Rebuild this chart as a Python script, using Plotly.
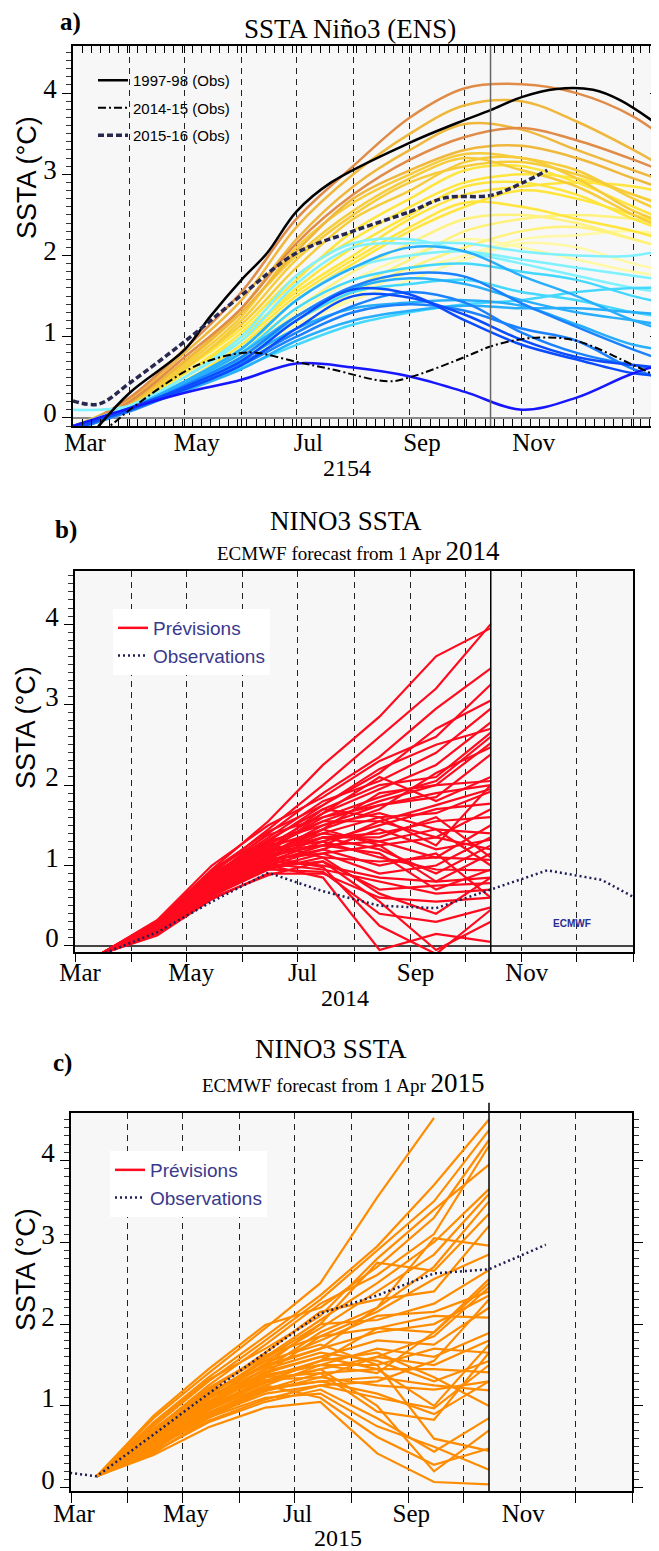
import plotly.graph_objects as go

W, H = 659, 1551
OFF = 8                      # default page margin of the written html
W_FIG, H_FIG = W - OFF, H - OFF
SERIF = "Liberation Serif"
SANS = "Liberation Sans"

# ======================= DATA =======================
# ---- Panel a : SSTA Nino3 (ENS) ----
A_MONTHS = ["2015-03-01", "2015-04-01", "2015-05-01", "2015-06-01", "2015-07-01", "2015-08-01",
            "2015-09-01", "2015-10-01", "2015-11-01", "2015-12-01", "2016-01-01", "2016-02-01"]

ENS_A_ORANGE = [
    [-0.15, 0.25, 0.85, 1.55, 2.45, 3.10, 3.70, 4.06, 4.11, 4.00, 3.71, 3.20],
    [-0.15, 0.20, 0.75, 1.35, 2.15, 2.75, 3.18, 3.46, 3.57, 3.42, 3.18, 2.90],
]
ENS_A_GOLD = [
    [-0.15, 0.22, 0.80, 1.45, 2.35, 3.00, 3.50, 3.85, 3.90, 3.65, 3.30, 2.90],
    [-0.12, 0.20, 0.70, 1.35, 2.20, 2.85, 3.30, 3.62, 3.55, 3.30, 3.05, 2.80],
    [-0.15, 0.18, 0.70, 1.30, 2.05, 2.70, 3.05, 3.30, 3.35, 3.20, 2.95, 2.70],
]
ENS_A_AMBER = [
    [-0.10, 0.20, 0.65, 1.25, 2.10, 2.65, 3.00, 3.25, 3.20, 3.05, 2.70, 2.40],
    [-0.15, 0.15, 0.60, 1.20, 1.95, 2.50, 2.90, 3.10, 3.15, 3.00, 2.75, 2.50],
    [-0.12, 0.20, 0.68, 1.30, 2.00, 2.55, 2.95, 3.20, 3.05, 2.85, 2.50, 2.20],
    [-0.15, 0.18, 0.62, 1.15, 1.85, 2.45, 2.80, 3.15, 3.20, 2.95, 2.55, 2.30],
]
ENS_A_YELLOW = [
    [-0.15, 0.15, 0.55, 1.05, 1.70, 2.30, 2.70, 3.05, 3.10, 2.90, 2.60, 2.30],
    [-0.10, 0.18, 0.60, 1.10, 1.75, 2.20, 2.60, 2.90, 3.00, 2.95, 2.75, 2.50],
    [-0.15, 0.12, 0.50, 1.00, 1.60, 2.10, 2.50, 2.85, 2.90, 2.75, 2.45, 2.20],
    [-0.12, 0.15, 0.55, 1.00, 1.55, 2.00, 2.45, 2.75, 2.85, 2.90, 2.85, 2.70],
    [-0.15, 0.10, 0.45, 0.90, 1.45, 1.90, 2.30, 2.60, 2.80, 2.70, 2.50, 2.30],
    [-0.10, 0.15, 0.50, 0.95, 1.50, 1.95, 2.35, 2.65, 2.60, 2.45, 2.30, 2.10],
]
ENS_A_PALE = [
    [-0.12, 0.12, 0.45, 0.85, 1.35, 1.80, 2.15, 2.45, 2.50, 2.40, 2.20, 2.00],
    [-0.15, 0.10, 0.40, 0.80, 1.25, 1.60, 1.95, 2.30, 2.45, 2.50, 2.45, 2.35],
    [-0.10, 0.12, 0.45, 0.80, 1.20, 1.55, 1.85, 2.10, 2.30, 2.35, 2.20, 2.00],
]
ENS_A_PALER = [
    [-0.15, 0.08, 0.35, 0.70, 1.10, 1.50, 1.80, 2.00, 2.20, 2.25, 2.30, 2.20],
    [-0.12, 0.10, 0.40, 0.75, 1.15, 1.45, 1.70, 1.95, 2.15, 2.10, 1.90, 1.75],
    [-0.10, 0.12, 0.42, 0.78, 1.30, 1.70, 2.00, 2.20, 2.10, 1.95, 1.80, 1.70],
]
ENS_A_LCYAN = [
    [0.10, 0.15, 0.50, 0.95, 1.65, 2.10, 2.15, 2.15, 2.05, 2.00, 2.00, 2.15],
    [-0.10, 0.15, 0.50, 1.00, 1.75, 2.15, 2.20, 2.05, 1.90, 1.75, 1.60, 1.50],
    [-0.12, 0.12, 0.45, 0.85, 1.45, 1.85, 2.00, 2.05, 1.95, 1.85, 1.75, 1.65],
]
ENS_A_CYAN = [
    [-0.10, 0.12, 0.42, 0.80, 1.35, 1.70, 1.85, 1.90, 1.80, 1.70, 1.50, 1.35],
    [-0.15, 0.10, 0.40, 0.75, 1.20, 1.55, 1.65, 1.70, 1.55, 1.45, 1.30, 1.20],
    [-0.10, 0.10, 0.36, 0.62, 0.90, 1.15, 1.30, 1.40, 1.45, 1.55, 1.60, 1.60],
]
ENS_A_SKY = [
    [-0.12, 0.12, 0.45, 0.85, 1.45, 1.85, 2.10, 2.05, 1.75, 1.50, 1.20, 1.00],
    [-0.10, 0.10, 0.42, 0.80, 1.25, 1.60, 1.72, 1.65, 1.45, 1.30, 1.20, 1.10],
    [-0.15, 0.10, 0.33, 0.60, 0.95, 1.20, 1.32, 1.38, 1.35, 1.35, 1.30, 1.25],
    [-0.10, 0.12, 0.40, 0.72, 1.10, 1.35, 1.42, 1.45, 1.38, 1.15, 0.90, 0.80],
]
ENS_A_BLUE = [
    [-0.12, 0.10, 0.40, 0.75, 1.25, 1.62, 1.78, 1.74, 1.41, 1.12, 0.84, 0.60],
    [-0.10, 0.10, 0.38, 0.68, 1.05, 1.38, 1.55, 1.42, 1.05, 0.80, 0.65, 0.55],
    [-0.15, 0.08, 0.35, 0.65, 1.00, 1.30, 1.40, 1.32, 1.10, 0.95, 0.60, 0.40],
]
ENS_A_DEEP = [
    [-0.12, 0.10, 0.35, 0.65, 1.10, 1.50, 1.48, 1.27, 0.96, 0.75, 0.65, 0.60],
    [-0.15, 0.12, 0.38, 0.70, 1.20, 1.58, 1.52, 1.20, 0.90, 0.72, 0.55, 0.50],
]
ENS_A_DARK = [
    [-0.10, 0.12, 0.31, 0.47, 0.67, 0.62, 0.51, 0.32, 0.10, 0.25, 0.55, 0.75],
]

OBS_9798_DATES = ["2015-03-01", "2015-03-15", "2015-04-01", "2015-05-01", "2015-05-15", "2015-06-01",
                  "2015-06-15", "2015-07-01", "2015-07-20", "2015-09-01", "2015-10-01", "2015-10-15",
                  "2015-11-01", "2015-11-20", "2015-12-10", "2015-12-25", "2016-01-15"]
OBS_9798 = [-0.50, -0.10, 0.31, 0.84, 1.25, 1.70, 2.03, 2.54, 2.90, 3.39, 3.67, 3.79,
            3.95, 4.05, 4.04, 3.91, 3.60]

OBS_1415_DATES = ["2015-03-01", "2015-03-21", "2015-04-01", "2015-05-01", "2015-05-15", "2015-06-01",
                  "2015-06-10", "2015-07-01", "2015-07-20", "2015-08-20", "2015-09-01", "2015-10-01",
                  "2015-10-15", "2015-11-01", "2015-11-15", "2015-12-01", "2016-01-01", "2016-01-15"]
OBS_1415 = [-0.35, -0.10, 0.10, 0.57, 0.71, 0.80, 0.80, 0.69, 0.60, 0.45, 0.50, 0.75,
            0.88, 0.97, 0.99, 0.95, 0.65, 0.50]

OBS_1516_DATES = ["2015-03-01", "2015-03-15", "2015-04-01", "2015-05-01", "2015-06-01", "2015-07-01",
                  "2015-08-01", "2015-09-01", "2015-09-20", "2015-10-15", "2015-11-01", "2015-11-15"]
OBS_1516 = [0.21, 0.17, 0.43, 0.94, 1.51, 2.03, 2.30, 2.54, 2.71, 2.74, 2.89, 3.05]

# ---- Panel b : ECMWF forecast from 1 Apr 2014 ----
B_DATES = ["2014-03-15", "2014-04-15", "2014-05-15", "2014-06-15", "2014-07-15",
           "2014-08-15", "2014-09-15", "2014-10-15"]
B_START = -0.10
B_MEMBERS = [
    [0.30, 0.95, 1.55, 2.25, 2.85, 3.60, 3.95],
    [0.28, 0.90, 1.45, 2.00, 2.60, 3.20, 4.00],
    [0.25, 0.85, 1.40, 1.90, 2.35, 2.95, 3.45],
    [0.32, 1.00, 1.50, 1.85, 2.30, 2.60, 3.25],
    [0.22, 0.80, 1.30, 1.75, 2.15, 2.70, 3.05],
    [0.28, 0.88, 1.35, 1.80, 2.05, 2.40, 2.95],
    [0.26, 0.82, 1.25, 1.65, 1.95, 2.25, 2.78],
    [0.20, 0.75, 1.20, 1.70, 2.00, 2.10, 2.65],
    [0.30, 0.92, 1.38, 1.60, 1.85, 2.05, 2.60],
    [0.24, 0.78, 1.22, 1.55, 1.80, 2.00, 2.52],
    [0.18, 0.70, 1.10, 1.45, 1.70, 2.15, 2.47],
    [0.27, 0.85, 1.30, 1.50, 1.75, 1.85, 2.38],
    [0.22, 0.76, 1.15, 1.45, 1.90, 2.00, 2.05],
    [0.25, 0.80, 1.20, 1.60, 1.75, 1.90, 2.00],
    [0.20, 0.72, 1.12, 1.40, 1.60, 1.65, 1.92],
    [0.30, 0.90, 1.28, 1.55, 1.55, 1.75, 1.95],
    [0.16, 0.65, 1.05, 1.30, 1.50, 1.70, 1.77],
    [0.22, 0.74, 1.10, 1.35, 1.40, 1.55, 1.60],
    [0.26, 0.80, 1.18, 1.25, 1.30, 1.45, 1.40],
    [0.19, 0.68, 1.00, 1.20, 1.45, 1.20, 1.32],
    [0.24, 0.77, 1.08, 1.15, 1.25, 1.35, 1.20],
    [0.15, 0.62, 0.95, 1.10, 1.05, 1.10, 1.07],
    [0.28, 0.86, 1.20, 1.30, 1.10, 0.95, 0.94],
    [0.21, 0.72, 1.05, 1.00, 0.85, 0.80, 0.85],
    [0.17, 0.66, 0.98, 1.05, 0.70, 0.75, 0.78],
    [0.23, 0.75, 1.02, 0.95, 0.80, 0.65, 0.70],
    [0.13, 0.58, 0.90, 0.90, 0.60, 0.55, 0.60],
    [0.20, 0.70, 0.95, 0.92, 0.40, 0.30, 0.48],
    [0.25, 0.78, 1.10, 0.98, 0.25, -0.10, 0.45],
    [0.18, 0.66, 1.00, 0.85, -0.05, 0.15, 0.05],
    [0.14, 0.60, 0.88, 1.05, 0.55, -0.05, 0.30],
    [0.27, 0.83, 1.25, 1.40, 1.30, 1.10, 1.50],
    [0.21, 0.73, 1.12, 1.25, 1.55, 1.35, 1.70],
    [0.29, 0.88, 1.32, 1.70, 1.60, 1.25, 2.00],
    [0.23, 0.76, 1.18, 1.35, 1.20, 0.90, 1.25],
    [0.19, 0.69, 1.06, 1.20, 1.00, 1.15, 0.60],
    [0.26, 0.81, 1.22, 1.45, 1.25, 0.80, 1.15],
    [0.16, 0.64, 0.97, 1.15, 0.90, 1.00, 1.35],
    [0.31, 0.94, 1.42, 1.75, 2.20, 2.50, 2.70],
    [0.22, 0.74, 1.14, 1.50, 1.65, 1.45, 1.00],
    [0.28, 0.87, 1.27, 1.10, 0.65, 0.40, 0.85],
    [0.17, 0.67, 1.03, 1.25, 1.15, 0.70, 0.95],
    [0.24, 0.79, 1.16, 1.65, 2.10, 1.80, 2.10],
    [0.20, 0.71, 1.08, 1.35, 1.35, 1.60, 1.10],
]
OBS_B_DATES = ["2014-03-15", "2014-04-15", "2014-05-15", "2014-06-15", "2014-07-15", "2014-08-15",
               "2014-09-15", "2014-10-15", "2014-11-15", "2014-12-15", "2015-01-15"]
OBS_B = [-0.11, 0.17, 0.55, 0.91, 0.68, 0.50, 0.47, 0.70, 0.94, 0.82, 0.44]

# ---- Panel c : ECMWF forecast from 1 Apr 2015 ----
C_DATES = ["2015-03-15", "2015-04-15", "2015-05-15", "2015-06-15", "2015-07-15",
           "2015-08-15", "2015-09-15", "2015-10-15"]
C_START = 0.14
C_MEMBERS = [
    [0.85, 1.40, 1.95, 2.50, 3.55, 4.52, None],
    [0.80, 1.35, 1.85, 2.35, 2.95, 3.70, 4.50],
    [0.75, 1.30, 1.80, 2.30, 2.90, 3.50, 4.37],
    [0.88, 1.45, 1.99, 2.20, 2.70, 3.30, 4.25],
    [0.70, 1.25, 1.75, 2.25, 2.60, 3.10, 4.18],
    [0.78, 1.32, 1.70, 2.10, 2.80, 3.40, 3.95],
    [0.72, 1.20, 1.60, 2.05, 2.50, 3.00, 3.65],
    [0.65, 1.15, 1.55, 1.95, 2.40, 2.85, 3.59],
    [0.60, 1.10, 1.50, 2.00, 2.75, 2.65, 3.35],
    [0.68, 1.18, 1.65, 2.15, 2.30, 2.40, 3.20],
    [0.55, 1.05, 1.45, 1.90, 2.20, 3.05, 2.96],
    [0.62, 1.12, 1.58, 2.00, 2.05, 2.25, 2.66],
    [0.50, 1.00, 1.40, 1.85, 1.95, 1.90, 2.50],
    [0.58, 1.08, 1.52, 1.80, 2.10, 2.15, 2.40],
    [0.66, 1.16, 1.48, 1.70, 1.90, 2.00, 2.35],
    [0.52, 1.02, 1.42, 1.60, 1.80, 1.75, 2.20],
    [0.45, 0.95, 1.35, 1.55, 1.95, 2.10, 2.08],
    [0.60, 1.05, 1.38, 1.50, 1.70, 1.60, 1.89],
    [0.55, 0.98, 1.30, 1.45, 1.60, 1.50, 1.80],
    [0.48, 0.90, 1.25, 1.50, 1.50, 1.70, 1.65],
    [0.62, 1.10, 1.45, 1.65, 1.55, 1.30, 1.55],
    [0.42, 0.85, 1.20, 1.40, 1.45, 1.45, 1.41],
    [0.56, 1.00, 1.32, 1.35, 1.25, 1.20, 1.30],
    [0.50, 0.92, 1.22, 1.30, 1.35, 1.25, 1.19],
    [0.46, 0.88, 1.15, 1.25, 1.10, 0.97, 1.50],
    [0.58, 1.04, 1.35, 1.40, 0.93, 0.83, 1.65],
    [0.44, 0.80, 1.05, 1.20, 0.85, 0.44, 0.85],
    [0.52, 0.95, 1.25, 1.10, 0.62, 0.28, 0.48],
    [0.40, 0.74, 0.98, 1.05, 0.42, 0.07, 0.04],
    [0.48, 0.86, 1.10, 1.15, 0.75, 0.50, 0.22],
    [0.54, 0.97, 1.28, 1.45, 1.00, 0.20, 0.70],
    [0.64, 1.14, 1.55, 1.75, 1.50, 0.60, 0.45],
    [0.70, 1.22, 1.62, 1.85, 2.15, 2.55, 2.85],
    [0.47, 0.90, 1.18, 1.35, 1.60, 1.85, 2.45],
    [0.53, 0.96, 1.30, 1.55, 1.65, 1.35, 1.00],
    [0.61, 1.09, 1.40, 1.60, 1.45, 1.00, 1.75],
    [0.43, 0.82, 1.08, 1.25, 1.30, 1.55, 2.30],
    [0.57, 1.03, 1.36, 1.50, 1.40, 1.90, 2.55],
    [0.67, 1.17, 1.50, 1.70, 2.20, 2.70, 3.50],
    [0.49, 0.89, 1.20, 1.30, 1.15, 0.90, 1.30],
]
OBS_C_DATES = ["2015-02-15", "2015-03-15", "2015-04-15", "2015-05-15", "2015-06-15", "2015-07-15",
               "2015-08-15", "2015-09-15", "2015-10-15", "2015-11-15"]
OBS_C = [0.22, 0.14, 0.65, 1.15, 1.65, 2.13, 2.35, 2.62, 2.67, 2.97]

# Axis labels
MONTH_LABELS_A = ["Mar", "", "May", "", "Jul", "", "Sep", "", "Nov", "", "Jan"]
MONTH_LABELS_BC = ["Mar", "", "May", "", "Jul", "", "Sep", "", "Nov", "", ""]
A_TICKS = ["2015-03-01", "2015-04-01", "2015-05-01", "2015-06-01", "2015-07-01", "2015-08-01",
           "2015-09-01", "2015-10-01", "2015-11-01", "2015-12-01", "2016-01-01"]
B_TICKS = ["2014-03-01", "2014-04-01", "2014-05-01", "2014-06-01", "2014-07-01", "2014-08-01",
           "2014-09-01", "2014-10-01", "2014-11-01", "2014-12-01", "2015-01-01"]
C_TICKS = A_TICKS
FORECAST_END_A = "2015-10-15"
FORECAST_END_B = "2014-10-15"
FORECAST_END_C = "2015-10-15"

# ======================= STYLE =======================
A_GROUPS = [
    (ENS_A_PALER, "#fff9a6"), (ENS_A_PALE, "#fff27c"), (ENS_A_YELLOW, "#ffe53c"),
    (ENS_A_AMBER, "#f6cc3a"), (ENS_A_GOLD, "#efb83c"), (ENS_A_ORANGE, "#e08c48"),
    (ENS_A_LCYAN, "#7ff1ff"), (ENS_A_CYAN, "#45d8ff"), (ENS_A_SKY, "#27aefc"),
    (ENS_A_BLUE, "#1a82ff"), (ENS_A_DEEP, "#0c4cff"), (ENS_A_DARK, "#1616ff"),
]
RED = "#ff0a1e"
ORANGE = "#ff8c00"
NAVY = "#1f1f55"
LEG_TXT = "#3a3a8c"
GRID_DASH = "6px,5px"


def px(x):
    return (x - OFF) / W_FIG


def py(y):
    return 1 - (y - OFF) / H_FIG


fig = go.Figure()

# ---- panel a traces ----
for members, col in A_GROUPS:
    for m in members:
        fig.add_trace(go.Scatter(x=A_MONTHS, y=m, mode="lines", line=dict(color=col, width=2.5, shape="spline"),
                                 showlegend=False, hoverinfo="skip", xaxis="x", yaxis="y"))
fig.add_trace(go.Scatter(x=OBS_9798_DATES, y=OBS_9798, mode="lines", name="1997-98 (Obs)",
                         line=dict(color="black", width=2.5, shape="spline"), legend="legend",
                         legendgroup="g1", xaxis="x", yaxis="y"))
fig.add_trace(go.Scatter(x=OBS_1415_DATES, y=OBS_1415, mode="lines", name="2014-15 (Obs)",
                         line=dict(color="black", width=2, dash="8px,3px,2px,3px", shape="spline"),
                         legend="legend", legendgroup="g2", xaxis="x", yaxis="y"))
fig.add_trace(go.Scatter(x=OBS_1516_DATES, y=OBS_1516, mode="lines", name="2015-16 (Obs)",
                         line=dict(color="#272750", width=3.5, dash="6px,3px", shape="spline"),
                         legend="legend", legendgroup="g3", xaxis="x", yaxis="y"))
fig.add_trace(go.Scatter(x=[None], y=[None], showlegend=False, hoverinfo="skip", xaxis="x", yaxis="y4"))

# ---- panel b traces ----
for m in B_MEMBERS:
    fig.add_trace(go.Scatter(x=B_DATES, y=[B_START] + m, mode="lines", line=dict(color=RED, width=2.2),
                             showlegend=False, hoverinfo="skip", xaxis="x2", yaxis="y2"))
fig.add_trace(go.Scatter(x=OBS_B_DATES, y=OBS_B, mode="lines", line=dict(color=NAVY, width=2.5, dash="2px,3px"),
                         showlegend=False, xaxis="x2", yaxis="y2"))
fig.add_trace(go.Scatter(x=[None], y=[None], mode="lines", name="Prévisions", line=dict(color=RED, width=2.5),
                         legend="legend2", legendgroup="b1", xaxis="x2", yaxis="y2"))
fig.add_trace(go.Scatter(x=[None], y=[None], mode="lines", name="Observations",
                         line=dict(color=NAVY, width=2.5, dash="2px,3px"),
                         legend="legend2", legendgroup="b2", xaxis="x2", yaxis="y2"))

# ---- panel c traces ----
for m in C_MEMBERS:
    fig.add_trace(go.Scatter(x=C_DATES, y=[C_START] + m, mode="lines", line=dict(color=ORANGE, width=2.2),
                             showlegend=False, hoverinfo="skip", xaxis="x3", yaxis="y3"))
fig.add_trace(go.Scatter(x=OBS_C_DATES, y=OBS_C, mode="lines", line=dict(color=NAVY, width=2.5, dash="2px,3px"),
                         showlegend=False, xaxis="x3", yaxis="y3"))
fig.add_trace(go.Scatter(x=[None], y=[None], mode="lines", name="Prévisions", line=dict(color=RED, width=2.5),
                         legend="legend3", legendgroup="c1", xaxis="x3", yaxis="y3"))
fig.add_trace(go.Scatter(x=[None], y=[None], mode="lines", name="Observations",
                         line=dict(color=NAVY, width=2.5, dash="2px,3px"),
                         legend="legend3", legendgroup="c2", xaxis="x3", yaxis="y3"))


def xaxis(domain, rng, ticks, labels, anchor, tickdir, ticklen, mirror, shift, standoff, minor=None):
    d = dict(type="date", domain=domain, range=rng, anchor=anchor, tickmode="array", tickvals=ticks,
             ticktext=labels, ticks=tickdir, ticklen=ticklen, tickcolor="black", tickwidth=1,
             showline=True, linecolor="black", linewidth=1.5, mirror=mirror,
             showgrid=True, gridcolor="#222222", gridwidth=1, griddash=GRID_DASH, zeroline=False,
             tickfont=dict(family=SERIF, size=25, color="black"), ticklabelshift=shift,
             ticklabelstandoff=standoff, automargin=False)
    if minor:
        d["minor"] = minor
    return d


def yaxis(domain, rng, anchor, mirror, zl, zlc, zlw, shift):
    return dict(domain=domain, range=rng, anchor=anchor, tickmode="linear", tick0=0, dtick=1,
                ticks="outside", ticklen=9, tickcolor="black", showline=True, linecolor="black",
                linewidth=1.5, mirror=mirror, showgrid=False, zeroline=zl, zerolinecolor=zlc,
                zerolinewidth=zlw, tickfont=dict(family=SERIF, size=27, color="black"),
                ticklabelshift=shift, automargin=False,
                minor=dict(tickmode="linear", tick0=0, dtick=0.1, ticks="outside", ticklen=5,
                           tickcolor="#333333", showgrid=False))


dom_a_x = [px(73), 1.0]
dom_a_y = [py(426), py(46)]
dom_b_x = [px(75), px(633)]
dom_b_y = [py(952), py(571)]
dom_c_x = [px(71), px(632)]
dom_c_y = [py(1491), py(1113)]

minor_a = dict(tickmode="linear", tick0="2015-03-01", dtick=5 * 86400000, ticks="inside", ticklen=7,
               tickcolor="black", showgrid=False)

fig.update_layout(
    width=W_FIG, height=H_FIG, autosize=False, margin=dict(l=0, r=0, t=0, b=0),
    paper_bgcolor="white", plot_bgcolor="#f7f7f7",
    xaxis=xaxis(dom_a_x, ["2015-03-01", "2016-01-15"], A_TICKS, MONTH_LABELS_A, "y", "inside", 7,
                "allticks", 12, -7, minor_a),
    yaxis=yaxis(dom_a_y, [-0.1, 4.58], "x", False, True, "#8a8a8a", 2, -5),
    yaxis4=dict(overlaying="y", side="right", anchor="x", range=[-0.1, 4.58], tickmode="linear", tick0=0,
                dtick=1, ticks="inside", ticklen=9, tickcolor="black", showticklabels=False, showline=True,
                linecolor="black", showgrid=False, zeroline=False,
                minor=dict(tickmode="linear", tick0=0, dtick=0.1, ticks="inside", ticklen=5,
                           tickcolor="#333333", showgrid=False)),
    xaxis2=xaxis(dom_b_x, ["2014-03-01", "2015-01-01"], B_TICKS, MONTH_LABELS_BC, "y2", "outside", 8,
                 True, 5, -11),
    yaxis2=yaxis(dom_b_y, [-0.075, 4.66], "x2", True, True, "#444444", 1.5, -8),
    xaxis3=xaxis(dom_c_x, ["2015-03-01", "2016-01-01"], C_TICKS, MONTH_LABELS_BC, "y3", "outside", 10,
                 True, 3, -11),
    yaxis3=yaxis(dom_c_y, [-0.04, 4.58], "x3", "ticks", False, "#444444", 1, -8),
    legend=dict(x=px(93), y=py(64), xanchor="left", yanchor="top", bgcolor="rgba(0,0,0,0)",
                font=dict(family=SANS, size=15, color="black"), itemwidth=30, tracegroupgap=5),
    legend2=dict(x=px(113), y=py(609), xanchor="left", yanchor="top", bgcolor="white",
                 font=dict(family=SANS, size=19, color=LEG_TXT), itemwidth=30, tracegroupgap=0),
    legend3=dict(x=px(110), y=py(1151), xanchor="left", yanchor="top", bgcolor="white",
                 font=dict(family=SANS, size=19, color=LEG_TXT), itemwidth=30, tracegroupgap=0),
)

# vertical forecast-end lines
fig.add_shape(type="line", xref="x", yref="y domain", x0=FORECAST_END_A, x1=FORECAST_END_A, y0=0, y1=1,
              line=dict(color="#666666", width=1.5))
fig.add_shape(type="line", xref="x2", yref="y2 domain", x0=FORECAST_END_B, x1=FORECAST_END_B, y0=0, y1=1,
              line=dict(color="black", width=1.5))
fig.add_shape(type="line", xref="x3", yref="y3 domain", x0=FORECAST_END_C, x1=FORECAST_END_C, y0=0, y1=1.027,
              line=dict(color="black", width=1.5))


def ann(text, x, y, size, family=SERIF, color="black", angle=0, xanchor="center"):
    fig.add_annotation(text=text, x=px(x), y=py(y), xref="paper", yref="paper", showarrow=False,
                       font=dict(family=family, size=size, color=color), textangle=angle,
                       xanchor=xanchor, yanchor="middle")


ann("<b>a)</b>", 70, 22, 25)
ann("SSTA Niño3 (ENS)", 350, 29, 27)
ann("<b>b)</b>", 66, 530, 25)
ann("NINO3 SSTA", 346, 521, 27)
ann("ECMWF forecast from 1 Apr <span style='font-size:27px'>2014</span>", 358, 551, 19)
ann("<b>c)</b>", 62, 1063, 25)
ann("NINO3 SSTA", 331, 1049, 27)
ann("ECMWF forecast from 1 Apr <span style='font-size:27px'>2015</span>", 343, 1083, 19)

ann("SSTA (°C)", 27, 178, 27, family=SANS, angle=-90)
ann("SSTA (°C)", 26, 728, 27, family=SANS, angle=-90)
ann("SSTA (°C)", 26, 1270, 27, family=SANS, angle=-90)

ann("2154", 347, 468, 24)
ann("2014", 345, 998, 24)
ann("2015", 338, 1538, 24)

ann("<b>ECMWF</b>", 572, 924, 10, family=SANS, color="#2b2b8f")

fig.write_html("out.html")
